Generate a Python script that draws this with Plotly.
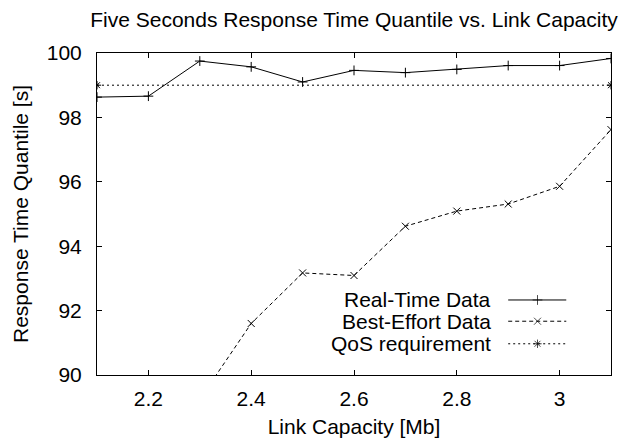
import plotly.graph_objects as go

capacity = [2.1, 2.2, 2.3, 2.4, 2.5, 2.6, 2.7, 2.8, 2.9, 3.0, 3.1]
real_time = [98.63, 98.66, 99.75, 99.57, 99.10, 99.46, 99.39, 99.49, 99.61, 99.61, 99.83]
best_effort = [86.9, 88.0, 89.25, 91.6, 93.17, 93.09, 94.62, 95.09, 95.31, 95.86, 97.62]
qos_x = [2.1, 3.1]
qos_y = [99.0, 99.0]
series_names = ["Real-Time Data", "Best-Effort Data", "QoS requirement"]
x_ticks = [2.2, 2.4, 2.6, 2.8, 3.0]
x_tick_labels = ["2.2", "2.4", "2.6", "2.8", "3"]
y_ticks = [90, 92, 94, 96, 98, 100]

FONT = "Liberation Sans, Arial, Helvetica, sans-serif"
FS = 21
styles = [
    dict(dash="solid", symbol="cross-thin-open"),
    dict(dash="4px,3px", symbol="x-thin-open"),
    dict(dash="2px,3px", symbol="asterisk-open"),
]

fig = go.Figure()
data_sets = [(capacity, real_time), (capacity, best_effort), (qos_x, qos_y)]
for (xs, ys), st, nm in zip(data_sets, styles, series_names):
    fig.add_trace(go.Scatter(
        x=xs, y=ys, mode="lines+markers", name=nm, showlegend=False,
        line=dict(color="black", width=1, dash=st["dash"]),
        marker=dict(symbol=st["symbol"], size=7, color="black",
                    line=dict(color="black", width=1)),
        cliponaxis=True,
    ))

# custom legend (text left of sample), drawn on a hidden overlay axis
leg_x0, leg_xm, leg_x1 = 0.800, 0.857, 0.913
leg_rows = [0.233, 0.167, 0.097]
leg_text_x = 0.771
for st, nm, ry in zip(styles, series_names, leg_rows):
    fig.add_trace(go.Scatter(
        x=[leg_x0, leg_xm, leg_x1], y=[ry, ry, ry], xaxis="x2", yaxis="y2",
        mode="lines+markers", showlegend=False, hoverinfo="skip",
        line=dict(color="black", width=1, dash=st["dash"]),
        marker=dict(symbol=st["symbol"], size=[0, 7, 0], color="black",
                    line=dict(color="black", width=1)),
    ))
    fig.add_annotation(x=leg_text_x, y=ry, xref="paper", yref="paper",
                       text=nm, showarrow=False, xanchor="right", yanchor="middle",
                       font=dict(size=FS, color="black", family=FONT))

axis_common = dict(
    showline=True, linecolor="black", linewidth=1, mirror="allticks",
    ticks="inside", ticklen=5, tickcolor="black", tickwidth=1,
    showgrid=False, zeroline=False,
    tickfont=dict(size=FS, color="black", family=FONT),
)

fig.update_layout(
    width=626, height=446,
    margin=dict(l=97, r=15, t=53, b=71),
    paper_bgcolor="white", plot_bgcolor="white",
    font=dict(family=FONT, color="black"),
    title=dict(text="Five Seconds Response Time Quantile vs. Link Capacity",
               xref="paper", x=0.5, xanchor="center", y=0.956, yanchor="middle",
               font=dict(size=FS, color="black", family=FONT)),
    xaxis=dict(range=[2.1, 3.1], tickvals=x_ticks, ticktext=x_tick_labels,
               ticklabelstandoff=5,
               title=dict(text="Link Capacity [Mb]", font=dict(size=FS, family=FONT, color="black"), standoff=10),
               **axis_common),
    yaxis=dict(range=[90, 100], tickvals=y_ticks, ticklabelstandoff=10,
               title=dict(text="Response Time Quantile [s]", font=dict(size=FS, family=FONT, color="black"), standoff=12),
               **axis_common),
    xaxis2=dict(range=[0, 1], overlaying="x", visible=False, fixedrange=True),
    yaxis2=dict(range=[0, 1], overlaying="y", visible=False, fixedrange=True),
)

fig.write_html("out.html")
